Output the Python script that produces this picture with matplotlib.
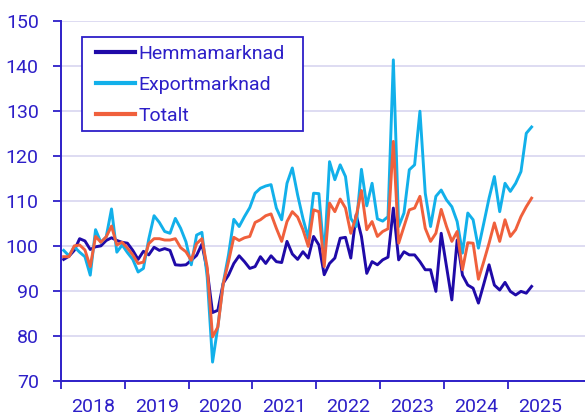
import numpy as np
import matplotlib.pyplot as plt
from matplotlib.patches import Rectangle

plt.rcParams['font.family'] = ['Roboto', 'DejaVu Sans']

# monthly index values, 2018-01 .. 2025-05
hemma = [97.0, 97.7, 99.0, 101.6, 101.1, 99.2, 99.8, 100.0, 101.2, 101.8, 101.2, 100.8,
         100.6, 99.0, 97.0, 98.8, 98.0, 99.7, 99.0, 99.4, 99.0, 95.8, 95.7, 95.8,
         96.8, 97.9, 100.4, 94.5, 85.2, 85.7, 91.7, 93.5, 96.1, 97.8, 96.5, 95.0,
         95.4, 97.6, 96.1, 97.8, 96.5, 96.3, 101.0, 98.2, 97.0, 98.7, 97.3, 102.1,
         100.2, 93.6, 96.1, 97.3, 101.7, 101.9, 97.3, 106.9, 102.1, 93.9, 96.5, 95.8,
         96.9, 97.5, 108.4, 96.9, 98.7, 98.0, 98.0, 96.5, 94.7, 94.7, 89.9, 102.8,
         95.4, 88.0, 101.3, 93.5, 91.3, 90.6, 87.3, 91.5, 95.8, 91.3, 90.2, 91.9,
         89.9, 89.1, 89.9, 89.5, 91.0]
export = [99.0, 97.8, 99.8, 98.6, 97.6, 93.5, 103.6, 100.8, 102.0, 108.2, 98.6, 100.2,
          98.5, 97.0, 94.2, 95.0, 101.5, 106.7, 105.2, 103.2, 102.8, 106.1, 103.9, 100.9,
          95.8, 102.4, 103.0, 93.0, 74.2, 82.1, 91.7, 98.0, 105.9, 104.3, 106.5, 108.5,
          111.7, 112.8, 113.3, 113.6, 108.4, 105.8, 113.9, 117.3, 111.3, 106.1, 101.7, 111.7,
          111.6, 97.6, 118.7, 114.7, 118.0, 115.4, 106.1, 104.3, 117.0, 108.9, 113.9, 106.0,
          105.5, 106.5, 141.3, 104.3, 107.3, 116.9, 118.0, 129.9, 111.7, 104.3, 111.0, 112.4,
          110.2, 108.7, 105.4, 98.4, 107.3, 105.8, 99.5, 105.0, 110.6, 115.4, 107.6, 113.9,
          112.1, 113.9, 116.5, 125.0, 126.4]
totalt = [97.6, 97.6, 100.0, 100.2, 99.1, 95.4, 102.1, 100.8, 102.0, 104.4, 100.2, 100.8,
          99.5, 98.0, 96.1, 96.4, 100.5, 101.6, 101.6, 101.3, 101.3, 101.6, 99.6, 98.7,
          96.8, 100.5, 101.6, 95.2, 79.8, 82.0, 91.5, 96.5, 101.9, 101.2, 101.8, 102.1,
          105.2, 105.8, 106.7, 107.1, 103.9, 101.0, 105.4, 107.6, 106.4, 103.6, 99.9, 108.0,
          107.6, 95.4, 109.5, 107.6, 110.4, 108.4, 102.8, 106.5, 112.3, 103.6, 105.4, 102.1,
          103.2, 103.8, 123.2, 100.6, 104.3, 108.0, 108.4, 111.0, 103.9, 101.0, 102.8, 108.1,
          104.3, 101.0, 103.2, 94.7, 100.7, 100.6, 92.6, 96.5, 100.6, 105.1, 101.0, 105.8,
          102.1, 103.6, 106.5, 108.7, 110.6]
years = list(range(2018, 2026))

navy = '#1f0aa8'
sky = '#12b0ea'
orange = '#f0603c'
txt = '#2d1fc8'
grid = '#d8d5f0'

x = years[0] + (np.arange(len(hemma)) + 0.5) / 12

fig = plt.figure(figsize=(5.85, 4.18), dpi=100)
ax = fig.add_axes([61 / 585, 37 / 418, 524 / 585, 360.3 / 418])

ax.plot(x, hemma, color=navy, lw=2.1, label='Hemmamarknad')
ax.plot(x, export, color=sky, lw=2.1, label='Exportmarknad')
ax.plot(x, totalt, color=orange, lw=2.1, label='Totalt')

ax.set_ylim(70, 150)
ax.set_xlim(2018, 2018 + 524 / 63.81)
ax.set_yticks(range(70, 151, 10))
ax.set_xticks(years)
ax.set_xticklabels([])
ax.set_xticks([y + 0.5 for y in years], minor=True)
ax.set_xticklabels([str(y) for y in years], minor=True)
ax.tick_params(axis='x', which='minor', length=0, pad=12.5, labelsize=14, labelcolor=txt)
ax.tick_params(axis='x', which='major', length=6, width=1.3, color=txt)
ax.tick_params(axis='y', length=6, width=1.3, color=txt, labelsize=14, labelcolor=txt, pad=10)

ax.grid(axis='y', color=grid, lw=1.2)
ax.set_axisbelow(True)
for s in ['top', 'right']:
    ax.spines[s].set_visible(False)
for s in ['left', 'bottom']:
    ax.spines[s].set_color(txt)
    ax.spines[s].set_linewidth(1.4)
    ax.spines[s].set_zorder(3)

# legend box drawn by hand so the padding matches
box = Rectangle((81.7 / 585, 1 - 131 / 418), (303 - 81.7) / 585, (131 - 36.7) / 418,
                transform=fig.transFigure, facecolor='white', edgecolor=txt,
                lw=1.3, zorder=4, clip_on=False)
ax.add_patch(box)
leg = ax.legend(loc='upper left', bbox_to_anchor=(96 / 585, 1 - 45 / 418),
                bbox_transform=fig.transFigure, fontsize=14, frameon=False,
                borderaxespad=0, borderpad=0, handlelength=2.0, handletextpad=0.2,
                labelspacing=0.66)
leg.set_zorder(5)
for t in leg.get_texts():
    t.set_color(txt)
for l in leg.get_lines():
    l.set_linewidth(3)

fig.savefig('out.png', dpi=100)
